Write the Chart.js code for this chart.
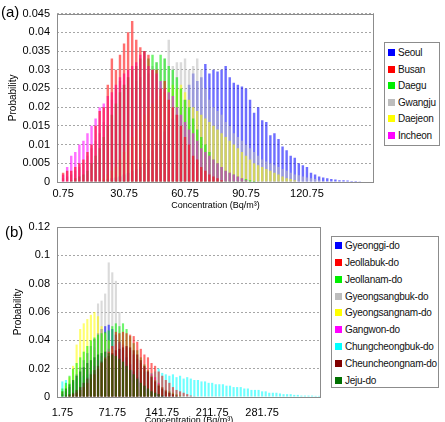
<!DOCTYPE html>
<html>
<head>
<meta charset="utf-8">
<script src="https://cdn.jsdelivr.net/npm/chart.js@4.4.1/dist/chart.umd.min.js"></script>
<style>
body { margin:0; width:445px; height:422px; overflow:hidden; background:#fff; position:relative; font-family:"Liberation Sans", Arial, sans-serif; }
canvas { position:absolute; left:0; }
#chartA { top:0; }
#chartB { top:212px; }
.tag { position:absolute; font-size:15px; color:#000; }
.legend { position:absolute; box-sizing:border-box; border:1px solid #8c8c8c; background:#fff; }
.legend div { position:absolute; left:3px; font-size:10px; line-height:12px; letter-spacing:-0.25px; white-space:nowrap; color:#111; }
.legend span { display:inline-block; width:7px; height:7px; margin-right:3px; }
</style>
</head>
<body>
<canvas id="chartA" width="445" height="212"></canvas>
<canvas id="chartB" width="445" height="220"></canvas>
<div class="tag" style="left:1px;top:3px">(a)</div>
<div class="tag" style="left:5px;top:223px">(b)</div>
<div class="legend" id="legendA" style="left:384px;top:42px;width:56px;height:104px"></div>
<div class="legend" id="legendB" style="left:331px;top:236px;width:108px;height:152px"></div>
<script>
// ---- panel (a): major cities, 2 Bq/m3 bins (first bin is an empty lead-in) ----
const aBins = [-1.25, 0.75, 2.75, 4.75, 6.75, 8.75, 10.75, 12.75, 14.75, 16.75, 18.75,
  20.75, 22.75, 24.75, 26.75, 28.75, 30.75, 32.75, 34.75, 36.75, 38.75,
  40.75, 42.75, 44.75, 46.75, 48.75, 50.75, 52.75, 54.75, 56.75, 58.75,
  60.75, 62.75, 64.75, 66.75, 68.75, 70.75, 72.75, 74.75, 76.75, 78.75,
  80.75, 82.75, 84.75, 86.75, 88.75, 90.75, 92.75, 94.75, 96.75, 98.75,
  100.75, 102.75, 104.75, 106.75, 108.75, 110.75, 112.75, 114.75, 116.75, 118.75,
  120.75, 122.75, 124.75, 126.75, 128.75, 130.75, 132.75, 134.75, 136.75, 138.75,
  140.75, 142.75, 144.75, 146.75, 148.75, 150.75, 152.75];
const aTicks = ["0.75", "30.75", "60.75", "90.75", "120.75"];
const aNames = ["Seoul", "Busan", "Daegu", "Gwangju", "Daejeon", "Incheon"];
const aColors = ["#0000ff", "#ff0000", "#00ee00", "#bdbdbd", "#ffff00", "#ff00ff"];

// values per bin, starting at 0.75
const seoul = [0, 0, 0, 0, 0, 0, 0, 0, 0, 0,
  0.0005, 0.0008, 0.001, 0.0012, 0.0015, 0.002, 0.0025, 0.003, 0.0035, 0.004,
  0.005, 0.006, 0.0085, 0.0105, 0.011, 0.0135, 0.015, 0.017, 0.018, 0.02,
  0.022, 0.026, 0.029, 0.027, 0.028, 0.0315, 0.029, 0.03, 0.0295, 0.03,
  0.031, 0.028, 0.0265, 0.026, 0.0255, 0.025, 0.022, 0.0185, 0.02, 0.0165,
  0.016, 0.0125, 0.013, 0.0115, 0.0095, 0.0085, 0.007, 0.0065, 0.005, 0.0045,
  0.004, 0.0025, 0.002, 0.0015, 0.0012, 0.001, 0.0008, 0.0007, 0.0005, 0.0005,
  0.0004, 0.0003, 0.0003, 0.0002];
const busan = [0.0025, 0.003, 0.003, 0.004, 0.005, 0.006, 0.008, 0.01, 0.015, 0.019,
  0.02, 0.026, 0.033, 0.03, 0.034, 0.037, 0.04, 0.043, 0.038, 0.036,
  0.035, 0.034, 0.03, 0.03, 0.025, 0.027, 0.022, 0.02, 0.018, 0.015,
  0.012, 0.01, 0.007, 0.006, 0.004, 0.003, 0.002, 0.0015, 0.001, 0.0005];
const daegu = [0, 0, 0.0005, 0.001, 0.0015, 0.002, 0.003, 0.005, 0.007, 0.009,
  0.012, 0.015, 0.018, 0.021, 0.024, 0.026, 0.028, 0.03, 0.031, 0.033,
  0.035, 0.033, 0.034, 0.032, 0.034, 0.033, 0.031, 0.03, 0.028, 0.025,
  0.022, 0.02, 0.017, 0.014, 0.012, 0.01, 0.008, 0.006, 0.005, 0.004,
  0.003, 0.0025, 0.002, 0.0015, 0.001, 0.0008, 0.0005, 0.0003];
const gwangju = [0.001, 0.0015, 0.002, 0.003, 0.004, 0.005, 0.007, 0.009, 0.011, 0.013,
  0.016, 0.02, 0.022, 0.025, 0.027, 0.026, 0.028, 0.025, 0.027, 0.028,
  0.03, 0.029, 0.031, 0.032, 0.03, 0.033, 0.038, 0.031, 0.032, 0.032,
  0.033, 0.03, 0.031, 0.033, 0.03, 0.025, 0.022, 0.02, 0.019, 0.018,
  0.016, 0.015, 0.013, 0.012, 0.011, 0.01, 0.009, 0.008, 0.007, 0.006,
  0.0055, 0.005, 0.0045, 0.004, 0.0035, 0.003, 0.0025, 0.002, 0.0018, 0.0015,
  0.0012, 0.001, 0.0008, 0.0005, 0.0003];
const daejeon = [0, 0, 0, 0, 0, 0, 0, 0, 0, 0,
  0.001, 0.002, 0.003, 0.004, 0.006, 0.008, 0.01, 0.012, 0.014, 0.016,
  0.018, 0.02, 0.021, 0.022, 0.023, 0.024, 0.025, 0.026, 0.025, 0.026,
  0.024, 0.022, 0.02, 0.019, 0.018, 0.017, 0.016, 0.015, 0.014, 0.013,
  0.012, 0.011, 0.01, 0.009, 0.008, 0.007, 0.006, 0.005, 0.0045, 0.004,
  0.0035, 0.003, 0.0025, 0.002, 0.0015, 0.001, 0.0008, 0.0005];
const incheon = [0.002, 0.004, 0.007, 0.008, 0.01, 0.011, 0.013, 0.015, 0.017, 0.02,
  0.021, 0.023, 0.024, 0.026, 0.028, 0.029, 0.03, 0.031, 0.032, 0.034,
  0.035, 0.031, 0.03, 0.029, 0.027, 0.025, 0.024, 0.023, 0.02, 0.018,
  0.016, 0.014, 0.013, 0.011, 0.009, 0.008, 0.007, 0.006, 0.005, 0.004,
  0.003, 0.0025, 0.002, 0.0015, 0.001, 0.0005];
const aSeries = [seoul, busan, daegu, gwangju, daejeon, incheon];
const aOrder = [6, 1, 3, 5, 4, 2];   // 1 = drawn on top

// ---- panel (b): provinces, 5 Bq/m3 bins (first bin is an empty lead-in) ----
const bBins = [-3.25, 1.75, 6.75, 11.75, 16.75, 21.75, 26.75, 31.75, 36.75, 41.75, 46.75,
  51.75, 56.75, 61.75, 66.75, 71.75, 76.75, 81.75, 86.75, 91.75, 96.75,
  101.75, 106.75, 111.75, 116.75, 121.75, 126.75, 131.75, 136.75, 141.75, 146.75,
  151.75, 156.75, 161.75, 166.75, 171.75, 176.75, 181.75, 186.75, 191.75, 196.75,
  201.75, 206.75, 211.75, 216.75, 221.75, 226.75, 231.75, 236.75, 241.75, 246.75,
  251.75, 256.75, 261.75, 266.75, 271.75, 276.75, 281.75, 286.75, 291.75, 296.75,
  301.75, 306.75, 311.75, 316.75, 321.75, 326.75, 331.75, 336.75, 341.75, 346.75,
  351.75, 356.75, 361.75];
const bTicks = ["1.75", "71.75", "141.75", "211.75", "281.75"];
const bNames = ["Gyeonggi-do", "Jeollabuk-do", "Jeollanam-do", "Gyeongsangbuk-do", "Gyeongsangnam-do",
  "Gangwon-do", "Chungcheongbuk-do", "Cheuncheongnam-do", "Jeju-do"];
const bColors = ["#0000ff", "#ff0000", "#00ee00", "#bdbdbd", "#ffff00", "#ff00ff", "#00ffff", "#800000", "#007000"];

// values per bin, starting at 1.75
const gyeonggi = [0.002, 0.004, 0.007, 0.011, 0.016, 0.021, 0.026, 0.031, 0.036, 0.041,
  0.045, 0.048, 0.05, 0.051, 0.048, 0.044, 0.039, 0.033, 0.028, 0.023,
  0.018, 0.014, 0.011, 0.008, 0.006, 0.004, 0.003, 0.002, 0.001, 0.0005];
const jeollabuk = [0, 0, 0.001, 0.002, 0.003, 0.005, 0.007, 0.01, 0.013, 0.016,
  0.02, 0.024, 0.028, 0.032, 0.036, 0.046, 0.045, 0.046, 0.045, 0.044,
  0.043, 0.039, 0.034, 0.03, 0.028, 0.024, 0.022, 0.018, 0.015, 0.012,
  0.01, 0.007, 0.005, 0.004, 0.003, 0.002, 0.001, 0.0005];
const jeollanam = [0.006, 0.01, 0.015, 0.02, 0.024, 0.028, 0.032, 0.036, 0.04, 0.042,
  0.044, 0.045, 0.046, 0.047, 0.05, 0.052, 0.05, 0.052, 0.048, 0.043,
  0.038, 0.033, 0.028, 0.023, 0.019, 0.015, 0.012, 0.009, 0.007, 0.005,
  0.004, 0.003, 0.002, 0.001];
const gyeongsangbuk = [0, 0, 0, 0, 0, 0, 0, 0, 0.01, 0.035,
  0.066, 0.068, 0.073, 0.095, 0.088, 0.082, 0.06, 0.04, 0.03, 0.02,
  0.012, 0.006, 0.002];
const gyeongsangnam = [0.004, 0.008, 0.014, 0.022, 0.037, 0.048, 0.052, 0.055, 0.058, 0.06,
  0.057, 0.05, 0.045, 0.04, 0.034, 0.029, 0.025, 0.021, 0.017, 0.013,
  0.01, 0.007, 0.005, 0.003, 0.002, 0.001];
const gangwon = [0, 0, 0, 0.002, 0.004, 0.007, 0.01, 0.014, 0.018, 0.022,
  0.026, 0.029, 0.032, 0.034, 0.036, 0.037, 0.038, 0.037, 0.035, 0.033,
  0.03, 0.027, 0.024, 0.021, 0.018, 0.016, 0.014, 0.01, 0.007, 0.005,
  0.003, 0.002, 0.001];
const chungbuk = [0.011, 0.012, 0.01, 0.012, 0.013, 0.014, 0.015, 0.016, 0.017, 0.018,
  0.018, 0.019, 0.019, 0.02, 0.02, 0.02, 0.02, 0.02, 0.02, 0.019,
  0.019, 0.019, 0.018, 0.018, 0.018, 0.017, 0.018, 0.02, 0.017, 0.016,
  0.015, 0.016, 0.014, 0.015, 0.013, 0.014, 0.013, 0.012, 0.012, 0.011,
  0.011, 0.01, 0.01, 0.009, 0.009, 0.009, 0.008, 0.008, 0.007, 0.007,
  0.007, 0.006, 0.006, 0.005, 0.005, 0.005, 0.004, 0.004, 0.003, 0.003,
  0.003, 0.0025, 0.002, 0.002, 0.002, 0.0015, 0.0015, 0.001, 0.001, 0.001,
  0.001, 0.0008, 0.0008];
const chungnam = [0, 0.001, 0.002, 0.003, 0.005, 0.007, 0.01, 0.013, 0.016, 0.019,
  0.022, 0.025, 0.027, 0.029, 0.031, 0.033, 0.034, 0.035, 0.036, 0.035,
  0.033, 0.03, 0.026, 0.022, 0.018, 0.014, 0.011, 0.008, 0.006, 0.004,
  0.003, 0.002, 0.001];
const jeju = [0.004, 0.006, 0.009, 0.012, 0.015, 0.018, 0.021, 0.024, 0.026, 0.028,
  0.03, 0.031, 0.032, 0.031, 0.03, 0.029, 0.027, 0.025, 0.022, 0.019,
  0.016, 0.013, 0.01, 0.008, 0.006, 0.004, 0.003, 0.002, 0.001];
const bSeries = [gyeonggi, jeollabuk, jeollanam, gyeongsangbuk, gyeongsangnam, gangwon, chungbuk, chungnam, jeju];
const bOrder = [7, 3, 4, 8, 6, 5, 9, 2, 1];

const FONT = "'Liberation Sans', Arial, sans-serif";

// grey frame around the plot area, like the Excel original
const frame = {
  id: "frame",
  afterDatasetsDraw(chart) {
    const a = chart.chartArea;
    const ctx = chart.ctx;
    ctx.save();
    ctx.strokeStyle = "#8c8c8c";
    ctx.lineWidth = 1;
    ctx.strokeRect(Math.round(a.left) + 0.5, Math.round(a.top) + 0.5,
      Math.round(a.right - a.left) - 1, Math.round(a.bottom - a.top));
    ctx.restore();
  }
};

function makeChart(id, bins, ticks, names, colors, series, order, o) {
  const datasets = series.map((d, i) => ({
    label: names[i],
    data: [null].concat(d),          // nothing in the lead-in bin
    backgroundColor: colors[i] + "90",
    borderWidth: 0,
    order: order[i],
    barPercentage: 0.6,
    categoryPercentage: 1.0
  }));
  return new Chart(document.getElementById(id), {
    type: "bar",
    data: { labels: bins.map(String), datasets: datasets },
    plugins: [frame],
    options: {
      responsive: false,
      animation: false,
      devicePixelRatio: 1,
      layout: { padding: { top: o.top, right: o.right, left: 0, bottom: 0 } },
      plugins: { legend: { display: false }, tooltip: { enabled: false } },
      datasets: { bar: { grouped: false } },
      scales: {
        x: {
          grid: { display: false, drawTicks: false },
          border: { display: false },
          ticks: {
            autoSkip: false, maxRotation: 0, padding: o.xPad, color: "#000",
            font: { family: FONT, size: 11 },
            callback(v) {
              const l = this.getLabelForValue(v);
              return ticks.includes(l) ? l : "";
            }
          },
          title: {
            display: true, text: "Concentration (Bq/m³)", color: "#000",
            font: { family: FONT, size: 9 }, padding: { top: 0, bottom: o.tPad }
          },
          afterFit(s) { s.height = o.xH; }
        },
        y: {
          min: 0, max: o.max,
          grid: { color: "#a6a6a6", lineWidth: 1, drawTicks: false },
          border: { display: false, dash: [2, 2] },
          ticks: {
            stepSize: o.step, padding: 7, color: "#000",
            font: { family: FONT, size: 11 },
            callback: v => String(+v.toFixed(3))
          },
          title: {
            display: true, text: "Probability", color: "#000",
            font: { family: FONT, size: 10 }, padding: { top: o.yT, bottom: 0 }
          },
          afterFit(s) { s.width = 57; }
        }
      }
    }
  });
}

makeChart("chartA", aBins, aTicks, aNames, aColors, aSeries, aOrder,
  { top: 7, right: 71, xH: 30, xPad: 5, tPad: 1, max: 0.045, step: 0.005, yT: 7 });
makeChart("chartB", bBins, bTicks, bNames, bColors, bSeries, bOrder,
  { top: 15, right: 124, xH: 35, xPad: 9, tPad: 6, max: 0.12, step: 0.02, yT: 12 });

function makeLegend(id, names, colors, first, gap) {
  const box = document.getElementById(id);
  names.forEach((n, i) => {
    const row = document.createElement("div");
    row.style.top = (first + i * gap - 6) + "px";
    const sw = document.createElement("span");
    sw.style.background = colors[i];
    row.appendChild(sw);
    row.appendChild(document.createTextNode(n));
    box.appendChild(row);
  });
}
makeLegend("legendA", aNames, aColors, 10, 16.6);
makeLegend("legendB", bNames, bColors, 9, 16.85);
</script>
</body>
</html>
